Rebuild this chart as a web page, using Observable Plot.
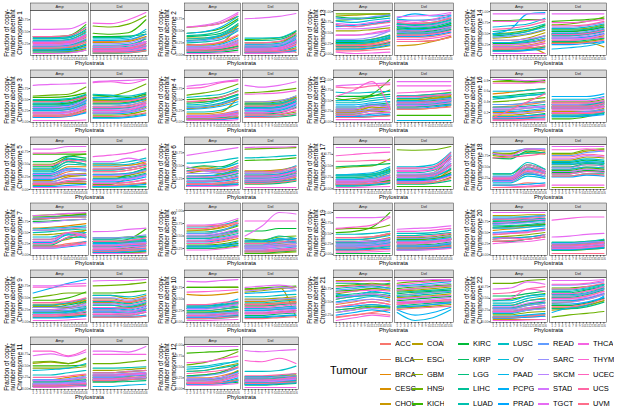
<!DOCTYPE html>
<html><head><meta charset="utf-8">
<script src="https://cdn.jsdelivr.net/npm/d3@7"></script>
<script src="https://cdn.jsdelivr.net/npm/@observablehq/plot@0.6"></script>
<style>
body{margin:0;background:#fff;font-family:"Liberation Sans",Arial,sans-serif;}
#fig{position:relative;width:617px;height:412px;overflow:hidden;background:#fff;}
#fig svg{position:absolute;overflow:visible;}
.lg{position:absolute;white-space:nowrap;overflow:hidden;color:#000;}
</style></head><body><div id="fig"></div><script>
const tumours = ["ACC","BLCA","BRCA","CESC","CHOL","COAD","ESCA","GBM","HNSC","KICH","KIRC","KIRP","LGG","LIHC","LUAD","LUSC","OV","PAAD","PCPG","PRAD","READ","SARC","SKCM","STAD","TGCT","THCA","THYM","UCEC","UCS","UVM"];
const types = ["Amp","Del"];
const phylostrata = d3.range(1, 17);
const knotStrata = [1, 6, 11, 16];
const chromosomes = d3.range(1, 23);
const yTickStep = [0.25,0.25,0.25,0.25,0.25,0.25,0.25,0.25,0.25,0.25,0.25,0.25,0.25,0.25,0.25,0.2,0.25,0.25,0.25,0.25,0.25,0.25];
// values in percent at phylostrata 1, 6, 11, 16, tumours in legend order
const ampValues = [
"10 10 12 20,22 22 25 40,30 30 33 50,25 25 27 38,15 15 17 30,12 12 14 25,20 20 22 35,8 8 9 15,18 18 20 32,40 40 42 65,12 12 13 22,35 35 37 55,6 6 7 12,38 38 40 60,28 28 30 45,32 32 34 48,36 36 38 52,20 20 22 34,14 14 15 24,10 10 11 18,30 30 32 42,18 18 20 30,24 24 26 40,22 22 24 36,55 55 56 70,5 5 6 12,28 28 30 44,26 26 28 42,40 40 42 58,16 16 18 28",
"10 10 12 20,15 15 18 30,30 32 38 55,20 22 25 40,22 20 25 62,35 35 40 60,12 12 15 25,8 8 10 18,57 60 66 80,45 48 55 75,5 5 6 10,38 40 45 65,10 10 12 18,40 42 50 72,25 27 32 50,33 35 42 62,30 32 40 55,18 18 22 35,45 48 58 80,6 6 8 14,28 30 35 52,14 14 17 28,16 17 20 32,12 13 15 25,58 62 70 88,3 3 4 6,58 60 66 85,10 11 14 22,20 22 27 42,8 8 9 15",
"10 10 12 25,35 35 38 55,40 40 42 55,30 30 32 45,25 25 28 40,20 20 22 35,45 45 48 60,15 15 17 28,58 60 62 78,55 55 57 65,40 40 42 52,48 48 50 60,12 12 14 22,38 38 40 50,30 30 33 48,50 50 52 62,42 42 45 58,25 25 28 42,35 35 37 48,10 10 12 20,28 28 30 45,22 22 24 38,18 18 20 32,32 32 34 50,82 84 85 87,3 3 3 4,20 20 22 35,15 15 17 30,45 45 47 58,12 12 14 24",
"8 8 10 15,15 15 18 25,12 12 14 20,30 32 38 50,18 18 22 55,45 45 50 62,10 10 12 18,6 6 7 10,60 65 72 85,50 52 56 70,5 5 6 9,42 44 50 62,8 8 9 12,35 36 42 55,22 22 26 40,55 58 62 75,38 40 48 60,12 12 15 22,28 30 35 45,4 4 5 8,32 34 40 52,10 10 12 18,14 14 16 24,10 10 12 16,80 84 90 95,3 3 3 5,75 78 88 92,12 12 14 20,45 48 55 68,6 6 7 12",
"10 10 15 20,25 25 35 40,30 30 45 45,20 20 28 30,15 15 25 28,18 18 30 32,40 40 55 50,8 8 12 12,50 50 65 70,70 70 70 70,45 45 60 58,55 55 66 62,12 12 15 16,35 35 50 48,28 28 40 38,38 38 55 50,42 42 62 55,20 20 30 28,32 32 42 40,6 6 8 10,25 25 38 36,15 15 22 22,22 22 30 30,30 30 40 38,80 80 85 85,4 4 5 5,72 72 74 75,12 12 18 20,48 48 58 55,10 10 14 15",
"12 12 14 18,30 30 32 38,40 45 42 50,25 27 28 35,45 48 44 40,20 20 22 28,35 40 35 45,10 10 12 14,28 30 32 40,15 15 17 22,12 12 14 18,45 50 48 60,10 10 11 14,20 20 22 30,25 25 28 35,55 56 60 65,40 42 45 55,30 30 34 40,18 18 20 25,12 12 13 15,22 22 25 32,35 35 38 45,48 40 38 50,28 28 30 38,70 75 80 85,10 10 10 12,20 20 22 28,15 15 17 22,38 42 40 48,14 14 15 18",
"20 20 25 30,55 56 58 62,60 62 65 70,25 25 40 55,30 30 35 50,80 82 85 88,45 46 50 55,88 90 92 92,82 84 88 90,85 86 88 92,75 76 78 80,80 82 85 85,22 22 38 40,35 35 45 42,50 52 56 58,58 60 62 65,40 40 48 50,28 28 45 38,18 18 22 30,15 15 18 22,82 84 86 88,55 56 60 62,72 74 78 80,30 30 50 45,88 90 93 95,15 15 20 25,25 25 40 45,35 35 50 40,80 82 84 85,18 18 22 28",
"30 30 32 35,50 50 55 62,60 62 66 75,40 40 44 50,35 35 38 45,45 45 50 58,62 62 68 82,25 25 26 30,55 55 60 70,32 32 34 40,28 28 30 35,48 48 52 60,25 25 27 32,58 58 62 72,45 45 48 55,50 50 55 62,68 68 72 80,38 38 42 50,28 28 30 32,30 30 32 38,55 55 60 75,42 42 46 52,48 48 52 58,52 52 56 65,72 72 75 85,22 22 24 28,40 40 44 50,35 35 40 48,65 65 70 78,70 70 72 75",
"10 10 12 15,30 30 28 35,35 35 38 45,20 20 22 28,35 35 30 45,40 40 38 48,25 25 22 30,32 32 30 40,50 55 60 60,45 45 50 62,15 15 16 20,30 30 35 42,10 10 11 14,20 20 22 28,25 25 28 32,15 15 18 22,35 35 40 48,18 18 20 25,60 70 80 88,8 8 9 12,22 22 24 30,30 30 32 38,12 12 14 18,25 25 28 35,75 75 78 80,3 3 4 6,72 72 74 75,15 15 16 22,40 40 42 50,12 12 14 16",
"10 10 12 15,25 25 28 32,30 30 35 40,60 58 60 65,20 20 22 25,15 15 18 22,35 35 38 42,75 75 75 75,22 22 24 28,75 75 76 76,12 12 14 16,30 30 32 35,8 8 9 12,35 35 38 42,25 25 28 32,20 20 22 25,32 32 36 45,35 36 40 50,15 15 17 20,10 10 12 14,30 30 34 40,18 18 20 22,12 12 14 18,28 28 32 38,88 87 90 92,4 4 5 6,65 66 68 70,15 15 17 20,38 38 42 45,8 8 10 12",
"5 5 6 10,15 15 18 22,20 20 25 30,10 10 12 15,8 8 10 12,12 12 14 18,55 58 55 65,45 45 45 48,58 60 55 67,50 50 50 52,5 5 6 8,18 18 20 25,6 6 7 10,12 12 14 18,15 15 16 20,30 30 35 40,40 42 45 55,10 10 12 15,8 8 9 12,5 5 6 8,20 20 22 28,12 12 14 18,10 10 12 14,18 18 20 25,72 76 70 80,3 3 4 5,82 82 72 85,8 8 10 12,25 25 28 32,6 6 7 9",
"12 12 14 18,25 25 30 40,30 32 38 50,15 15 20 35,20 20 25 42,18 18 22 35,40 42 50 58,12 12 14 22,55 60 70 85,82 84 86 90,10 10 12 15,30 32 38 55,12 12 14 20,20 22 25 40,40 42 48 55,50 52 58 62,45 48 55 65,22 22 26 38,12 12 15 25,10 10 12 18,28 30 35 48,18 18 22 32,15 15 18 28,22 22 26 36,97 97 97 97,8 8 9 12,60 62 68 75,14 14 18 30,35 38 42 50,12 12 14 20",
"15 15 18 25,22 22 25 35,30 30 35 45,20 20 22 30,25 25 28 40,90 92 94 95,55 55 58 62,12 12 14 20,95 95 95 95,80 82 85 90,28 28 30 38,88 85 85 92,18 18 20 28,32 32 35 45,70 65 70 78,25 25 28 38,78 75 80 85,30 30 32 42,65 68 72 80,12 12 15 22,85 82 88 92,35 35 40 55,45 45 48 55,60 60 62 68,72 70 75 80,5 2 3 5,45 45 50 58,20 20 22 30,68 65 70 75,8 8 10 12",
"10 10 12 18,20 20 24 32,30 30 35 45,25 25 28 38,22 22 20 5,35 35 40 52,40 42 48 58,15 15 17 22,50 52 58 68,80 80 82 82,28 28 30 35,45 48 55 70,12 12 14 20,30 30 35 45,55 58 62 72,48 50 55 65,65 68 72 85,30 30 32 40,50 60 95 98,10 10 12 15,42 45 50 60,20 20 22 28,35 35 38 45,25 25 28 35,95 95 95 95,5 5 5 5,78 78 80 82,18 18 20 28,60 62 68 78,15 15 17 22",
"20 20 25 30,25 25 30 35,30 30 38 40,22 22 28 32,25 25 35 30,28 28 40 35,20 22 35 30,18 18 25 22,50 55 60 75,55 50 65 100,60 60 62 65,35 35 40 45,10 10 12 15,30 30 40 35,45 45 50 55,70 68 70 72,50 50 55 60,15 15 18 22,40 40 45 48,12 12 14 18,35 35 42 40,25 25 30 32,20 20 25 28,30 30 38 35,85 88 90 92,5 5 5 5,60 75 95 30,15 15 20 22,82 80 85 88,10 10 12 14",
"10 10 12 15,30 32 35 40,55 58 62 65,20 20 22 25,25 25 28 32,15 15 18 22,35 35 38 42,78 78 77 76,40 42 45 48,82 80 78 80,12 12 14 18,50 52 55 58,8 8 10 12,45 48 52 55,30 30 32 35,60 60 62 65,48 50 52 55,22 22 24 28,12 12 14 16,8 8 9 10,35 35 38 40,25 25 28 30,18 18 20 22,28 28 30 32,82 82 80 82,5 5 6 6,75 75 75 78,10 10 12 14,10 25 40 55,6 6 7 8",
"10 10 12 20,18 18 20 30,25 25 28 40,15 15 17 25,12 12 14 28,20 20 22 35,8 8 10 18,45 48 50 65,10 10 12 15,30 30 32 42,12 12 14 18,48 50 52 55,6 6 8 12,25 25 28 38,30 30 32 45,28 28 30 40,22 22 25 35,30 32 35 48,15 15 17 22,8 8 10 14,20 20 22 30,15 15 18 25,18 18 20 28,12 12 14 22,90 90 90 90,3 3 4 5,72 75 78 80,15 15 17 25,60 60 62 62,10 10 12 15",
"10 10 15 12,25 25 40 35,22 22 50 38,28 28 55 40,20 20 45 35,80 78 88 85,75 72 82 78,18 18 35 30,82 80 90 88,35 35 55 45,20 20 38 30,70 68 85 80,25 25 45 40,78 75 80 82,22 22 48 35,35 35 60 45,15 15 30 25,30 30 50 40,10 10 12 15,20 20 35 28,85 85 90 90,25 25 45 38,18 18 38 30,28 28 55 42,80 75 90 88,5 6 8 10,22 22 42 35,25 25 50 40,70 72 75 80,5 5 6 8",
"10 10 12 15,25 25 28 35,30 30 32 40,35 35 38 48,20 20 22 28,18 18 20 25,40 40 42 50,15 15 17 22,60 62 62 70,52 55 65 100,2 2 2 2,30 30 32 38,12 12 14 18,28 28 30 35,22 22 25 30,48 48 50 55,35 35 38 45,20 20 22 28,15 15 17 20,10 10 12 14,25 25 28 32,18 18 20 25,22 22 24 30,30 30 32 38,88 88 88 90,5 5 6 8,62 65 70 88,15 15 18 22,40 40 42 50,8 8 10 12",
"30 32 35 40,60 62 65 70,70 72 75 80,55 58 62 68,45 48 52 58,88 88 90 90,80 82 85 88,40 42 45 50,72 74 76 78,35 38 40 45,62 64 66 68,75 76 78 82,30 30 35 40,65 66 68 72,78 78 80 82,70 72 74 78,85 85 86 88,60 60 62 65,50 52 55 60,38 38 40 45,82 82 84 88,68 70 72 75,48 50 52 55,72 74 78 80,95 95 95 95,25 28 30 35,35 38 35 45,45 48 50 58,80 80 82 85,30 32 35 40",
"20 25 30 35,45 50 55 50,55 60 62 58,40 45 50 45,35 38 45 40,90 90 90 90,65 70 75 72,30 35 40 38,80 82 85 82,70 72 75 78,60 62 65 62,85 85 82 85,35 38 42 40,62 65 68 66,75 78 80 75,55 60 62 60,50 55 60 55,65 60 70 65,25 30 35 30,40 42 45 42,72 75 78 75,48 52 55 52,30 35 38 35,58 62 65 60,88 88 90 88,15 20 25 22,68 70 72 70,40 45 50 45,78 80 82 80,22 25 28 25",
"8 8 10 12,25 25 30 35,30 30 38 45,20 20 25 30,5 5 5 5,35 35 45 50,28 28 35 40,15 15 20 22,82 82 88 90,45 48 55 60,22 22 28 30,55 55 60 65,10 10 14 15,30 30 38 42,18 18 25 28,40 40 50 55,35 35 45 48,45 45 55 58,12 12 15 18,8 8 10 12,28 28 35 40,20 20 25 28,25 25 30 35,32 32 40 45,70 72 85 80,3 3 4 5,48 50 70 65,22 22 28 32,60 62 70 75,10 10 12 15"
];
const delValues = [
"30 30 32 45,20 20 22 35,15 15 17 30,10 10 12 25,28 28 30 40,8 8 10 20,12 12 14 40,6 6 8 12,62 60 66 83,47 45 48 75,40 40 41 45,10 10 12 22,5 5 6 10,38 38 40 50,18 18 20 30,22 22 24 35,35 35 37 55,14 14 15 25,32 32 34 45,8 8 9 14,12 12 13 20,25 25 27 38,16 16 18 28,10 10 11 18,20 20 22 30,68 67 75 90,12 12 14 22,9 9 10 16,15 15 16 26,6 6 7 11",
"10 10 12 25,15 15 18 35,12 12 14 30,8 8 10 22,20 20 22 5,18 18 22 50,14 14 16 38,6 6 7 15,25 25 27 42,32 33 35 48,5 5 6 12,10 10 12 25,4 4 5 8,30 30 32 45,12 12 14 28,35 35 36 50,22 22 24 40,16 16 18 32,8 8 9 18,5 5 6 10,18 18 20 35,20 20 22 38,14 14 16 30,10 10 12 24,75 77 80 86,3 3 4 6,12 12 14 28,8 8 10 20,25 25 28 45,6 6 7 12",
"30 30 32 45,40 40 42 50,45 45 47 60,35 35 37 48,50 50 50 55,20 20 22 32,48 48 50 65,15 15 17 25,55 58 68 85,42 42 44 52,60 58 55 62,25 25 27 35,10 10 12 18,30 30 32 42,52 50 50 58,62 60 58 65,40 40 42 50,18 18 20 30,55 54 52 55,8 8 10 15,22 22 24 35,35 35 38 45,28 28 30 40,20 20 22 30,90 92 93 95,88 90 86 95,25 25 27 38,32 32 34 42,45 45 47 55,12 12 14 20",
"30 30 32 40,35 35 38 50,40 40 42 55,25 25 28 42,20 20 22 35,45 45 48 55,38 38 40 52,15 15 16 22,65 67 70 75,42 42 45 58,30 30 32 45,18 18 20 32,10 10 11 15,28 28 30 42,32 32 35 48,40 40 42 52,35 35 38 50,22 22 25 38,30 30 33 45,12 12 13 18,25 25 28 40,45 45 47 58,20 20 22 35,28 28 30 42,82 78 82 90,62 63 65 70,20 20 22 30,15 15 17 25,35 35 37 50,10 10 12 18",
"30 30 32 40,45 45 48 52,35 35 38 45,25 25 28 35,50 50 48 55,12 12 14 20,40 40 42 50,8 8 10 12,20 20 28 38,10 10 22 30,18 18 30 42,5 5 6 5,5 5 5 6,22 22 25 32,38 38 42 48,52 52 55 62,48 48 50 58,30 30 32 40,15 15 18 25,6 6 7 10,20 20 22 30,42 42 44 50,28 28 30 38,18 18 20 28,55 55 62 55,65 68 72 80,12 12 14 20,35 35 38 45,40 40 42 50,8 8 10 14",
"20 20 22 28,30 30 32 38,35 35 37 45,25 25 27 35,40 40 42 48,15 15 17 22,32 32 34 42,18 18 20 25,82 83 84 85,60 61 62 65,28 28 30 38,22 22 24 32,15 15 16 20,30 30 32 40,25 25 28 35,65 66 68 70,38 38 40 50,20 20 22 30,32 32 34 42,18 18 19 24,22 22 24 32,35 35 37 45,28 28 30 40,24 24 26 34,85 86 86 87,8 8 8 8,30 30 32 38,20 20 22 30,38 38 40 48,16 16 18 22",
"20 20 22 25,15 15 18 22,25 25 28 30,10 10 12 15,30 30 32 35,8 8 10 12,18 18 22 25,5 5 5 6,35 35 40 40,30 30 35 58,12 12 15 20,38 38 40 42,5 5 6 8,22 22 25 28,28 28 30 32,35 35 36 40,30 30 32 35,18 18 20 22,25 25 27 30,6 6 8 10,10 10 12 15,38 38 40 45,22 22 25 28,15 15 18 20,52 53 57 60,3 3 3 4,20 20 22 25,12 12 14 18,30 30 32 38,8 8 10 12",
"25 25 28 30,35 35 38 40,40 40 42 45,30 30 32 35,28 28 30 32,38 38 42 45,32 32 35 38,15 15 16 18,45 42 48 50,15 15 18 20,60 60 65 65,20 20 22 25,18 18 19 22,42 40 50 45,35 35 40 38,38 38 45 42,30 30 45 35,28 28 32 30,22 22 25 28,40 40 42 45,32 32 36 38,25 25 28 30,30 30 33 35,28 28 30 32,50 70 97 94,80 80 80 80,22 22 24 26,20 20 22 25,35 35 38 42,18 18 20 22",
"25 25 22 28,45 45 40 48,40 40 35 42,30 30 28 35,55 55 48 55,20 20 18 25,48 48 42 50,35 35 30 38,75 76 78 82,60 60 62 65,25 25 22 28,15 15 14 20,10 10 10 12,30 30 28 35,42 42 38 45,55 55 52 58,35 35 32 40,20 20 18 24,28 28 25 32,12 12 11 14,22 22 20 28,50 50 45 52,38 38 35 42,25 25 22 30,85 86 86 88,18 18 17 22,30 30 28 34,15 15 14 20,45 45 42 48,10 10 10 12",
"30 30 32 35,40 40 42 45,35 35 38 42,45 45 48 50,70 72 75 10,25 25 28 30,50 50 52 55,65 68 72 75,38 38 40 42,72 74 76 78,20 20 22 25,15 15 18 20,10 10 12 15,35 35 38 40,42 42 45 48,55 55 58 60,30 30 32 35,25 25 28 30,62 64 66 68,12 12 14 16,28 28 30 32,48 48 50 52,68 70 75 70,22 22 25 28,75 78 80 75,18 18 20 22,32 32 35 38,20 20 22 25,38 38 40 42,8 8 10 12",
"20 20 22 25,30 30 32 35,35 35 37 40,25 25 27 30,28 28 30 32,22 22 24 26,40 40 42 45,18 18 20 22,55 55 58 62,15 15 20 25,20 20 22 24,25 25 28 30,15 15 16 18,30 30 32 34,45 45 46 48,28 28 30 32,35 35 38 40,5 5 8 10,22 22 24 26,18 18 20 22,25 25 28 30,32 32 34 36,20 20 22 25,28 28 30 32,82 82 80 92,75 75 75 75,30 30 32 34,22 22 24 28,35 35 38 40,18 18 20 22",
"15 15 16 20,22 22 24 28,25 25 27 30,18 18 20 22,12 12 14 18,20 20 22 25,28 28 30 32,10 10 12 14,15 15 18 22,12 12 14 18,25 25 26 30,18 18 20 24,8 8 10 12,20 20 22 26,22 22 24 28,40 40 42 52,28 28 30 35,15 15 17 20,12 12 14 16,10 10 12 14,18 18 20 24,25 25 27 30,20 20 22 26,16 16 18 22,88 85 88 90,3 3 3 3,65 62 70 58,20 20 22 26,30 30 32 35,12 12 14 16",
"40 40 42 50,55 55 58 68,60 60 62 72,45 45 48 58,20 22 30 42,30 30 32 40,65 65 68 78,50 50 52 62,70 72 75 85,58 55 58 68,62 60 62 72,55 52 55 65,48 48 50 58,70 68 70 80,65 62 65 75,72 70 72 82,82 80 82 90,60 58 60 70,85 95 90 92,42 42 45 52,52 50 52 62,78 80 80 88,68 65 68 78,55 55 58 65,88 90 92 98,35 35 38 45,80 75 82 95,45 45 48 55,75 72 75 85,30 30 32 40",
"40 40 42 48,50 50 52 58,55 55 58 65,45 45 48 55,28 30 30 20,35 35 38 45,60 60 62 70,30 30 32 38,70 72 78 88,78 80 82 85,55 55 58 65,48 48 50 58,32 32 35 40,58 58 60 68,50 50 52 60,62 62 65 72,45 45 48 55,15 18 22 30,40 40 42 50,25 25 28 32,52 52 55 62,65 65 68 75,42 42 45 52,38 38 40 48,95 95 95 95,35 35 38 42,75 75 78 82,48 48 50 58,68 68 70 78,28 28 30 35",
"35 35 38 42,45 45 48 52,50 50 55 58,40 40 42 48,55 55 58 62,30 30 32 38,52 52 55 60,38 38 40 45,60 62 65 70,15 15 15 15,48 48 50 55,42 42 45 50,35 35 38 42,55 55 60 65,50 50 52 58,62 62 65 68,45 45 48 52,3 3 3 3,40 40 42 48,32 32 35 40,48 48 52 55,58 58 62 65,42 42 45 50,38 38 40 45,95 95 95 95,85 85 85 85,68 70 72 75,45 45 48 52,60 60 62 65,30 30 32 35",
"25 25 26 30,30 30 30 35,35 35 36 40,28 28 28 32,38 38 38 42,22 22 22 28,32 32 32 38,15 15 16 20,40 40 40 45,8 8 12 20,30 30 30 36,18 18 20 25,12 12 14 18,35 35 35 40,28 28 28 32,32 32 33 38,45 45 45 50,15 15 16 20,50 50 50 55,12 12 13 16,20 20 22 25,35 35 36 42,30 30 30 35,25 25 25 30,42 42 42 48,20 20 20 22,38 38 38 42,28 28 28 32,32 32 32 38,18 18 18 22",
"20 20 22 40,25 25 28 50,30 30 32 55,18 18 20 35,22 22 25 30,15 15 18 45,30 30 35 70,12 12 14 25,85 84 85 92,5 5 5 5,20 20 22 35,25 25 28 42,10 10 12 18,28 28 30 50,35 35 40 65,40 40 45 72,48 48 52 80,22 22 25 45,15 15 18 30,18 18 20 32,30 30 32 55,45 45 48 75,32 32 35 60,25 25 28 50,40 40 42 65,15 15 18 28,38 38 42 70,28 28 30 52,45 45 48 78,12 12 14 22",
"40 40 45 45,55 55 60 58,50 50 55 52,45 45 50 48,35 35 42 40,78 78 85 88,65 65 72 70,5 5 5 5,80 80 88 90,42 42 48 45,38 38 42 40,60 60 65 62,30 30 35 35,50 50 58 55,55 55 60 58,62 62 68 65,45 45 50 48,35 35 40 38,58 58 62 60,28 28 32 30,75 75 82 85,48 48 55 52,40 40 45 42,68 68 75 72,95 95 95 95,10 10 10 10,88 88 90 85,35 35 40 38,72 72 78 75,30 30 35 32",
"15 15 17 22,25 25 28 35,30 30 32 38,20 20 22 28,28 28 30 35,18 18 20 25,35 35 38 45,12 12 14 18,40 40 42 48,35 35 38 42,22 22 24 30,30 30 32 38,15 15 17 20,28 28 30 35,45 45 48 52,50 50 52 58,32 32 35 40,10 10 12 15,18 18 20 25,12 12 14 16,20 20 22 28,38 38 40 45,30 30 32 38,25 25 28 32,60 62 64 68,10 10 11 14,55 55 58 62,28 28 30 35,42 42 45 50,15 15 16 20",
"12 12 14 18,18 18 20 24,20 20 22 26,15 15 17 22,22 22 24 28,10 10 12 15,18 18 20 25,12 12 14 16,25 25 27 32,20 20 22 35,28 28 30 32,15 15 17 20,10 10 12 15,22 22 24 28,18 18 20 24,28 28 30 35,20 20 22 26,15 15 17 20,25 25 27 30,12 12 14 16,15 15 17 20,25 25 28 30,18 18 20 24,14 14 16 20,40 42 46 48,78 82 85 85,20 20 22 26,15 15 17 20,22 22 24 28,3 3 3 3",
"40 42 45 48,55 58 60 62,62 65 68 70,48 50 52 55,45 48 50 52,58 60 62 65,70 72 75 78,38 40 42 45,85 88 90 90,75 78 80 82,52 55 58 60,65 68 70 72,42 45 48 50,68 70 72 75,60 62 65 68,72 75 78 80,80 82 85 88,30 15 20 35,35 25 30 40,40 42 45 48,62 65 68 70,78 80 82 85,50 52 55 58,55 58 60 62,90 90 92 92,45 48 50 52,82 85 88 90,48 50 52 55,72 75 78 80,35 38 40 42",
"35 35 40 50,50 50 55 65,55 55 60 70,45 45 50 60,25 28 35 45,60 60 65 72,40 42 48 58,30 30 35 45,10 15 18 22,72 72 75 80,35 35 40 50,62 62 68 75,28 28 32 42,52 52 58 68,65 65 70 78,58 58 62 72,68 68 72 80,20 30 35 55,45 45 50 60,38 38 42 52,55 55 60 70,78 78 80 85,42 42 48 58,48 48 52 62,88 88 88 90,60 60 65 75,80 80 82 88,50 50 55 65,70 70 75 82,32 32 38 48"
];

// ggplot2 default hue palette (polar LUV, c=100, l=65)
function hclLuv(h, c, l) {
  const un = 0.1978398, vn = 0.4683363, hr = h * Math.PI / 180;
  const u = c * Math.cos(hr), v = c * Math.sin(hr);
  const Y = l > 8 ? Math.pow((l + 16) / 116, 3) : l / 903.3;
  const up = u / (13 * l) + un, vp = v / (13 * l) + vn;
  const X = 9 * Y * up / (4 * vp);
  const Z = 3 * Y / vp - X / 3 - 5 * Y;
  const lin = [3.240479*X - 1.537150*Y - 0.498535*Z, -0.969256*X + 1.875992*Y + 0.041556*Z, 0.055648*X - 0.204043*Y + 1.057311*Z];
  const g = t => { t = t <= 0.0031308 ? 12.92 * t : 1.055 * Math.pow(t, 1 / 2.4) - 0.055; return Math.round(255 * Math.max(0, Math.min(1, t))); };
  const [r, gg, b] = lin.map(g);
  return d3.rgb(r, gg, b).formatHex();
}
const colors = tumours.map((t, i) => hclLuv(15 + 12 * i, 100, 65));

function parsePanel(str, type) {
  const out = [];
  str.split(",").forEach((grp, i) => {
    grp.trim().split(/\s+/).map(Number).forEach((v, k) => {
      out.push({type, tumour: tumours[i], x: knotStrata[k], y: v / 100});
    });
  });
  return out;
}

const fig = document.getElementById("fig");
const colX = [0, 153, 303, 459], colW = [151, 148, 153, 150];
const rowPitch = 66.8, H = 66, mt = 10, mb = 11;
const FONT = '"Liberation Sans", Arial, Helvetica, sans-serif';

chromosomes.forEach((chr, ci) => {
  let col, row;
  if (chr <= 12) { col = (chr - 1) % 2; row = Math.floor((chr - 1) / 2); }
  else { col = 2 + (chr - 13) % 2; row = Math.floor((chr - 13) / 2); }
  const rows = parsePanel(ampValues[ci], "Amp").concat(parsePanel(delValues[ci], "Del"));
  const [mn, mx] = d3.extent(rows, d => d.y);
  const pad = (mx - mn) * 0.05;
  const lo = mn - pad, hi = mx + pad;
  const step = yTickStep[ci];
  const yt = d3.range(Math.ceil(lo / step - 1e-9), Math.floor(hi / step + 1e-9) + 1).map(k => +(k * step).toFixed(4)).filter(v => v >= lo && v <= hi);
  const fmt = d3.format(step === 0.25 ? ".2f" : ".1f");
  const title = "Fraction of copy-\nnumber aberrant\nChromosome " + chr;
  const innerH = H - mt - mb;
  const svg = Plot.plot({
    width: colW[col], height: H,
    marginLeft: 30, marginRight: 2, marginTop: mt, marginBottom: mb,
    style: {fontFamily: FONT, fontSize: "3.4px", color: "#4d4d4d", background: "transparent", overflow: "visible"},
    fx: {domain: types, paddingInner: 0.03, paddingOuter: 0, axis: null, label: null},
    x: {domain: [0.25, 16.75], ticks: phylostrata, tickSize: 1.5, tickPadding: 0.6, tickFormat: d => String(d), label: null},
    y: {domain: [lo, hi], ticks: yt, tickSize: 1.5, tickPadding: 0.6, tickFormat: fmt, label: null},
    color: {domain: tumours, range: colors},
    marks: [
      Plot.frame({fill: "#d9d9d9", stroke: "#333333", strokeWidth: 0.5, insetTop: -7.5, insetBottom: innerH}),
      Plot.line(rows, {fx: "type", x: "x", y: "y", z: "tumour", stroke: "tumour", curve: "monotone-x", strokeWidth: 1.15}),
      Plot.frame({stroke: "#333333", strokeWidth: 0.5}),
      Plot.text(types, {fx: d => d, text: d => d, frameAnchor: "top", lineAnchor: "middle", dy: -3.7, fontSize: 4, fill: "#1a1a1a"}),
      Plot.text(["Amp"], {fx: d => d, text: () => title, frameAnchor: "left", lineAnchor: "middle", textAnchor: "middle", rotate: -90, dx: -17.5, fontSize: 6.4, lineHeight: 1.02, fill: "#000"}),
      Plot.text(["Del"], {fx: d => d, text: () => "Phylostrata", frameAnchor: "bottom-left", lineAnchor: "middle", textAnchor: "middle", dx: -1, dy: 7.3, fontSize: 5.8, fill: "#000"})
    ]
  });
  svg.style.left = colX[col] + "px";
  svg.style.top = (row * rowPitch) + "px";
  fig.appendChild(svg);
});

// legend
const legendKeyX = [380, 412, 458, 498, 538, 578];
const legendRowY = [344, 359.5, 374.5, 389, 404];
const ttl = document.createElement("div");
ttl.className = "lg";
ttl.textContent = "Tumour";
Object.assign(ttl.style, {left: "330px", top: "363px", fontSize: "11px", lineHeight: "14px", fontFamily: FONT});
fig.appendChild(ttl);
tumours.forEach((t, i) => {
  const c = Math.floor(i / 5), r = i % 5;
  const key = document.createElement("div");
  Object.assign(key.style, {position: "absolute", left: legendKeyX[c] + "px", top: (legendRowY[r] - 0.9) + "px", width: "11px", height: "1.8px", background: colors[i]});
  fig.appendChild(key);
  const lab = document.createElement("div");
  lab.className = "lg";
  lab.textContent = t;
  Object.assign(lab.style, {left: (legendKeyX[c] + 15) + "px", top: (legendRowY[r] - 5) + "px", fontSize: "7.5px", lineHeight: "10px", fontFamily: FONT});
  if (c === 1) lab.style.width = "17px";
  fig.appendChild(lab);
});
</script></body></html>
